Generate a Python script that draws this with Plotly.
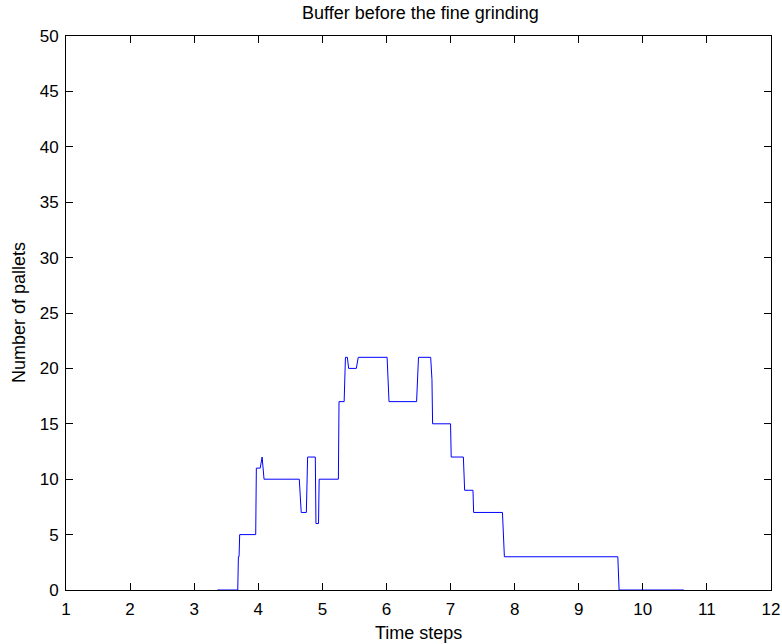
import plotly.graph_objects as go

time_steps = [3.36, 3.68, 3.69, 3.70, 3.71, 3.96, 3.97, 4.03, 4.06, 4.09, 4.64, 4.67, 4.75, 4.77,
              4.89, 4.90, 4.94, 4.95, 5.25, 5.26, 5.34, 5.36, 5.39, 5.41, 5.53, 5.56, 6.01, 6.04,
              6.47, 6.50, 6.69, 6.71, 6.72, 7.00, 7.01, 7.20, 7.22, 7.35, 7.36, 7.81, 7.84,
              9.61, 9.63, 10.64]
pallets = [0, 0, 3, 3, 5, 5, 11, 11, 12, 10, 10, 7, 7, 12,
           12, 6, 6, 10, 10, 17, 17, 21, 21, 20, 20, 21, 21, 17,
           17, 21, 21, 19, 15, 15, 12, 12, 9, 9, 7, 7, 3,
           3, 0, 0]

x_ticks = list(range(1, 13))
y_ticks = list(range(0, 51, 5))

FONT = "Liberation Sans, Arial, Helvetica"

fig = go.Figure()
fig.add_trace(go.Scatter(x=time_steps, y=pallets, mode="lines",
                         line=dict(color="#0000ff", width=1), showlegend=False))

axis_common = dict(showgrid=False, zeroline=False, showline=True, linecolor="black",
                   linewidth=1, mirror="ticks", ticks="inside", ticklen=7,
                   tickcolor="black", automargin=False,
                   tickfont=dict(family=FONT, size=17, color="black"))

fig.update_layout(
    width=782, height=644,
    margin=dict(l=66, r=11, t=36, b=54),
    paper_bgcolor="white", plot_bgcolor="white",
    xaxis=dict(range=[1, 12], tickvals=x_ticks, ticklabelstandoff=4, **axis_common),
    yaxis=dict(range=[0, 50], tickvals=y_ticks, ticklabelstandoff=3, **axis_common),
    annotations=[
        dict(text="Buffer before the fine grinding", xref="paper", yref="paper",
             x=0.5035, y=1, yshift=23, xanchor="center", yanchor="middle", showarrow=False,
             font=dict(family=FONT, size=18, color="black")),
        dict(text="Time steps", xref="paper", yref="paper",
             x=0.5, y=0, yshift=-43, xanchor="center", yanchor="middle", showarrow=False,
             font=dict(family=FONT, size=18, color="black")),
        dict(text="Number of pallets", xref="paper", yref="paper",
             x=0, y=0.5, xshift=-47, xanchor="center", yanchor="middle", showarrow=False,
             textangle=-90, font=dict(family=FONT, size=18, color="black")),
    ],
)

fig.write_html("out.html")
